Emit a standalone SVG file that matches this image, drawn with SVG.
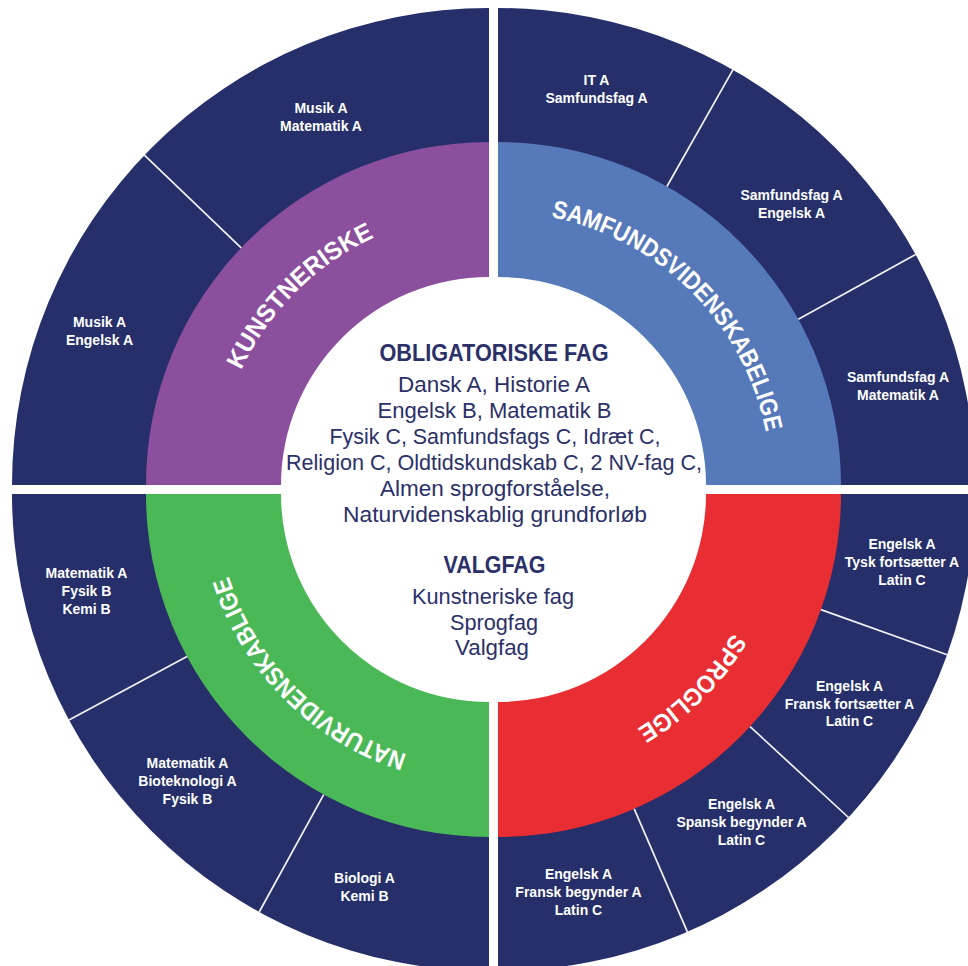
<svg xmlns="http://www.w3.org/2000/svg" width="968" height="966" viewBox="0 0 968 966">
<style>
.navy{fill:#262f69}
.purple{fill:#8b4f9d}
.blue{fill:#5679ba}
.green{fill:#4bb858}
.red{fill:#e92e33}
.div{stroke:#f2f2f6;stroke-width:1.7;fill:none}
.lbl{font-family:"Liberation Sans",Arial,sans-serif;font-weight:bold;font-size:14px;fill:#ffffff;text-anchor:middle}
.ring{font-family:"Liberation Sans",Arial,sans-serif;font-weight:bold;font-size:25px;fill:#ffffff;text-anchor:middle}
.h{font-family:"Liberation Sans",Arial,sans-serif;font-weight:bold;font-size:23px;fill:#2a3068;text-anchor:middle}
.t{font-family:"Liberation Sans",Arial,sans-serif;font-size:22px;fill:#2a3068;text-anchor:middle}
</style>
<defs>
<path id="arcTL" d="M216,485 A273,273 0 0 1 489,212"/>
<path id="arcTR" d="M498,212 A273,273 0 0 1 771,485"/>
<path id="arcBR" d="M771,494 A273,273 0 0 1 498,767"/>
<path id="arcBL" d="M489,767 A273,273 0 0 1 216,494"/>
</defs>
<rect x="0" y="0" width="968" height="966" fill="#ffffff"/>

<g id="outer-ring">
<path class="navy" d="M12,485 A477,477 0 0 1 489,8 L489,143 A342,342 0 0 0 147,485 Z"/>
<path class="navy" d="M498,8 A477,477 0 0 1 975,485 L840,485 A342,342 0 0 0 498,143 Z"/>
<path class="navy" d="M489,971 A477,477 0 0 1 12,494 L147,494 A342,342 0 0 0 489,836 Z"/>
<path class="navy" d="M975,494 A477,477 0 0 1 498,971 L498,836 A342,342 0 0 0 840,494 Z"/>
</g>

<g id="kunstneriske">
<path class="purple" d="M146,485 A343,343 0 0 1 489,142 L489,277 A208,208 0 0 0 281,485 Z"/>
<text class="ring"><textPath href="#arcTL" startOffset="50%" textLength="192" lengthAdjust="spacingAndGlyphs">KUNSTNERISKE</textPath></text>
</g>
<g id="samfundsvidenskabelige">
<path class="blue" d="M498,142 A343,343 0 0 1 841,485 L706,485 A208,208 0 0 0 498,277 Z"/>
<text class="ring"><textPath href="#arcTR" startOffset="50%" textLength="322" lengthAdjust="spacingAndGlyphs">SAMFUNDSVIDENSKABELIGE</textPath></text>
</g>
<g id="naturvidenskablige">
<path class="green" d="M489,837 A343,343 0 0 1 146,494 L281,494 A208,208 0 0 0 489,702 Z"/>
<text class="ring"><textPath href="#arcBL" startOffset="50%" textLength="262" lengthAdjust="spacingAndGlyphs">NATURVIDENSKABLIGE</textPath></text>
</g>
<g id="sproglige">
<path class="red" d="M841,494 A343,343 0 0 1 498,837 L498,702 A208,208 0 0 0 706,494 Z"/>
<text class="ring"><textPath href="#arcBR" startOffset="50%" textLength="137" lengthAdjust="spacingAndGlyphs">SPROGLIGE</textPath></text>
</g>

<g id="dividers">
<line class="div" x1="241.2" y1="247.9" x2="144.4" y2="155.2"/>
<line class="div" x1="666.9" y1="186.5" x2="732.9" y2="69.8"/>
<line class="div" x1="798.3" y1="319.2" x2="915.6" y2="254.5"/>
<line class="div" x1="187" y1="656.6" x2="69" y2="720.1"/>
<line class="div" x1="323.7" y1="794.6" x2="259.2" y2="912"/>
<line class="div" x1="820.9" y1="609.6" x2="947.1" y2="654.8"/>
<line class="div" x1="750.1" y1="726.6" x2="848.5" y2="817.5"/>
<line class="div" x1="634.2" y1="808.8" x2="687.4" y2="931.8"/>
</g>

<g id="tl-musik-matematik"><text class="lbl"><tspan x="321" y="113">Musik A</tspan><tspan x="321" y="131">Matematik A</tspan></text></g>
<g id="tl-musik-engelsk"><text class="lbl"><tspan x="99.5" y="327">Musik A</tspan><tspan x="99.5" y="345">Engelsk A</tspan></text></g>

<g id="tr-it-samfundsfag"><text class="lbl"><tspan x="596.5" y="85">IT A</tspan><tspan x="596.5" y="102.5">Samfundsfag A</tspan></text></g>
<g id="tr-samfundsfag-engelsk"><text class="lbl"><tspan x="791.5" y="200">Samfundsfag A</tspan><tspan x="791.5" y="218">Engelsk A</tspan></text></g>
<g id="tr-samfundsfag-matematik"><text class="lbl"><tspan x="898" y="382">Samfundsfag A</tspan><tspan x="898" y="400">Matematik A</tspan></text></g>

<g id="bl-matematik-fysik-kemi"><text class="lbl"><tspan x="86.5" y="578">Matematik A</tspan><tspan x="86.5" y="596">Fysik B</tspan><tspan x="86.5" y="614">Kemi B</tspan></text></g>
<g id="bl-matematik-bioteknologi-fysik"><text class="lbl"><tspan x="187.5" y="768">Matematik A</tspan><tspan x="187.5" y="786">Bioteknologi A</tspan><tspan x="187.5" y="804">Fysik B</tspan></text></g>
<g id="bl-biologi-kemi"><text class="lbl"><tspan x="364.5" y="883">Biologi A</tspan><tspan x="364.5" y="901">Kemi B</tspan></text></g>

<g id="br-tysk"><text class="lbl"><tspan x="902" y="549">Engelsk A</tspan><tspan x="902" y="567">Tysk fortsætter A</tspan><tspan x="902" y="585">Latin C</tspan></text></g>
<g id="br-fransk-fortsaetter"><text class="lbl"><tspan x="849.5" y="690.5">Engelsk A</tspan><tspan x="849.5" y="708.5">Fransk fortsætter A</tspan><tspan x="849.5" y="726">Latin C</tspan></text></g>
<g id="br-spansk"><text class="lbl"><tspan x="741.5" y="809">Engelsk A</tspan><tspan x="741.5" y="827">Spansk begynder A</tspan><tspan x="741.5" y="844.5">Latin C</tspan></text></g>
<g id="br-fransk-begynder"><text class="lbl"><tspan x="578.5" y="879">Engelsk A</tspan><tspan x="578.5" y="897">Fransk begynder A</tspan><tspan x="578.5" y="914.5">Latin C</tspan></text></g>

<g id="center">
<text class="h" x="494" y="361" textLength="229" lengthAdjust="spacingAndGlyphs">OBLIGATORISKE FAG</text>
<text class="t" x="494" y="392" textLength="192" lengthAdjust="spacingAndGlyphs">Dansk A, Historie A</text>
<text class="t" x="494.5" y="417.5" textLength="234" lengthAdjust="spacingAndGlyphs">Engelsk B, Matematik B</text>
<text class="t" x="495" y="443.5" textLength="331" lengthAdjust="spacingAndGlyphs">Fysik C, Samfundsfags C, Idræt C,</text>
<text class="t" x="494" y="469.5" textLength="416" lengthAdjust="spacingAndGlyphs">Religion C, Oldtidskundskab C, 2 NV-fag C,</text>
<text class="t" x="495" y="495.5" textLength="230" lengthAdjust="spacingAndGlyphs">Almen sprogforståelse,</text>
<text class="t" x="495" y="521.5" textLength="304" lengthAdjust="spacingAndGlyphs">Naturvidenskablig grundforløb</text>
<text class="h" x="494.5" y="573" textLength="102" lengthAdjust="spacingAndGlyphs">VALGFAG</text>
<text class="t" x="493" y="604" textLength="162" lengthAdjust="spacingAndGlyphs">Kunstneriske fag</text>
<text class="t" x="494" y="630" textLength="88" lengthAdjust="spacingAndGlyphs">Sprogfag</text>
<text class="t" x="492" y="655" textLength="74" lengthAdjust="spacingAndGlyphs">Valgfag</text>
</g>
</svg>
